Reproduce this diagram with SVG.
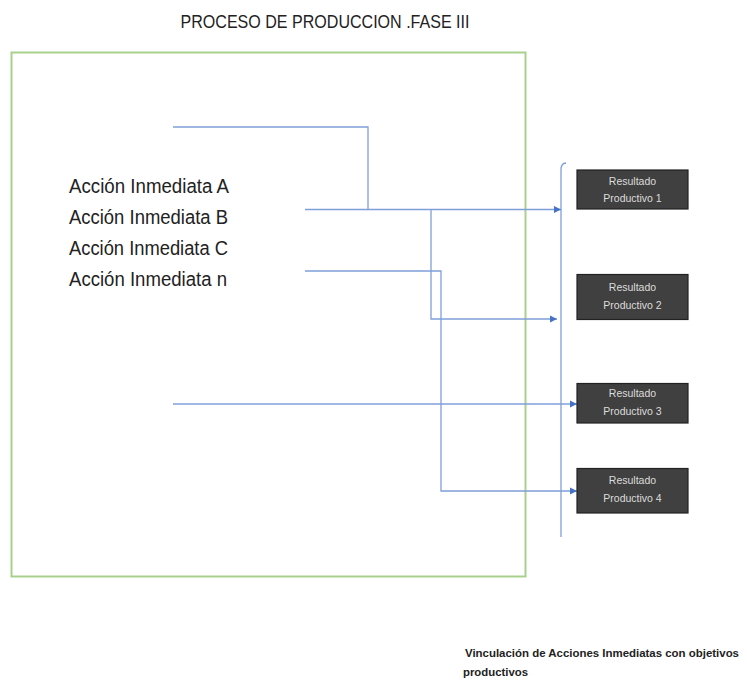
<svg xmlns="http://www.w3.org/2000/svg" width="747" height="684" viewBox="0 0 747 684">
<defs>
<style>
.t{font-family:"Liberation Sans",Arial,sans-serif;fill:#222}
.act{font-size:20px}
.conn{fill:none;stroke:#7f9fd9;stroke-width:1.3}
.box rect{fill:#404040;stroke:#222;stroke-width:1.2}
.box text{font-family:"Liberation Sans",Arial,sans-serif;font-size:10.5px;fill:#dcdcdc;text-anchor:middle}
</style>
<marker id="ah" markerWidth="8" markerHeight="8" refX="7" refY="4" orient="auto" markerUnits="userSpaceOnUse">
<path d="M0,0.5 L7,4 L0,7.5 Z" fill="#4472c4"/>
</marker>
</defs>
<rect width="747" height="684" fill="#fff"/>
<text class="t" x="325" y="28" font-size="18" text-anchor="middle" textLength="289" lengthAdjust="spacingAndGlyphs">PROCESO DE PRODUCCION .FASE III</text>
<g id="frame"><rect x="11.5" y="52.5" width="514" height="524" fill="none" stroke="#a9d18e" stroke-width="2"/></g>
<g id="actions">
<text class="t act" x="69" y="193" textLength="160" lengthAdjust="spacingAndGlyphs">Acción Inmediata A</text>
<text class="t act" x="69" y="224" textLength="159" lengthAdjust="spacingAndGlyphs">Acción Inmediata B</text>
<text class="t act" x="69" y="255" textLength="159" lengthAdjust="spacingAndGlyphs">Acción Inmediata C</text>
<text class="t act" x="69" y="286" textLength="158" lengthAdjust="spacingAndGlyphs">Acción Inmediata n</text>
</g>
<g id="connectors">
<path class="conn" d="M566,163 Q561,163 561,170 L561,537"/>
<path class="conn" d="M173,127 H368 V209.5 H561" marker-end="url(#ah)"/>
<path class="conn" d="M305,209.5 H368"/>
<path class="conn" d="M431,209.5 V319 H557" marker-end="url(#ah)"/>
<path class="conn" d="M305,271 H441 V491 H577" marker-end="url(#ah)"/>
<path class="conn" d="M173,404 H577" marker-end="url(#ah)"/>
</g>
<g id="r1" class="box"><rect x="577" y="170" width="111" height="39"/><text x="632.5" y="185">Resultado</text><text x="632.5" y="202">Productivo 1</text></g>
<g id="r2" class="box"><rect x="577" y="274.5" width="111" height="45"/><text x="632.5" y="291">Resultado</text><text x="632.5" y="309">Productivo 2</text></g>
<g id="r3" class="box"><rect x="577" y="383.5" width="111" height="39.5"/><text x="632.5" y="397">Resultado</text><text x="632.5" y="415">Productivo 3</text></g>
<g id="r4" class="box"><rect x="577" y="468.5" width="111" height="44.5"/><text x="632.5" y="484">Resultado</text><text x="632.5" y="502">Productivo 4</text></g>
<g id="caption">
<text class="t" x="465" y="657" font-size="10.5" font-weight="bold" textLength="274" lengthAdjust="spacingAndGlyphs">Vinculación de Acciones Inmediatas con objetivos</text>
<text class="t" x="463" y="676" font-size="10.5" font-weight="bold" textLength="65" lengthAdjust="spacingAndGlyphs">productivos</text>
</g>
</svg>
